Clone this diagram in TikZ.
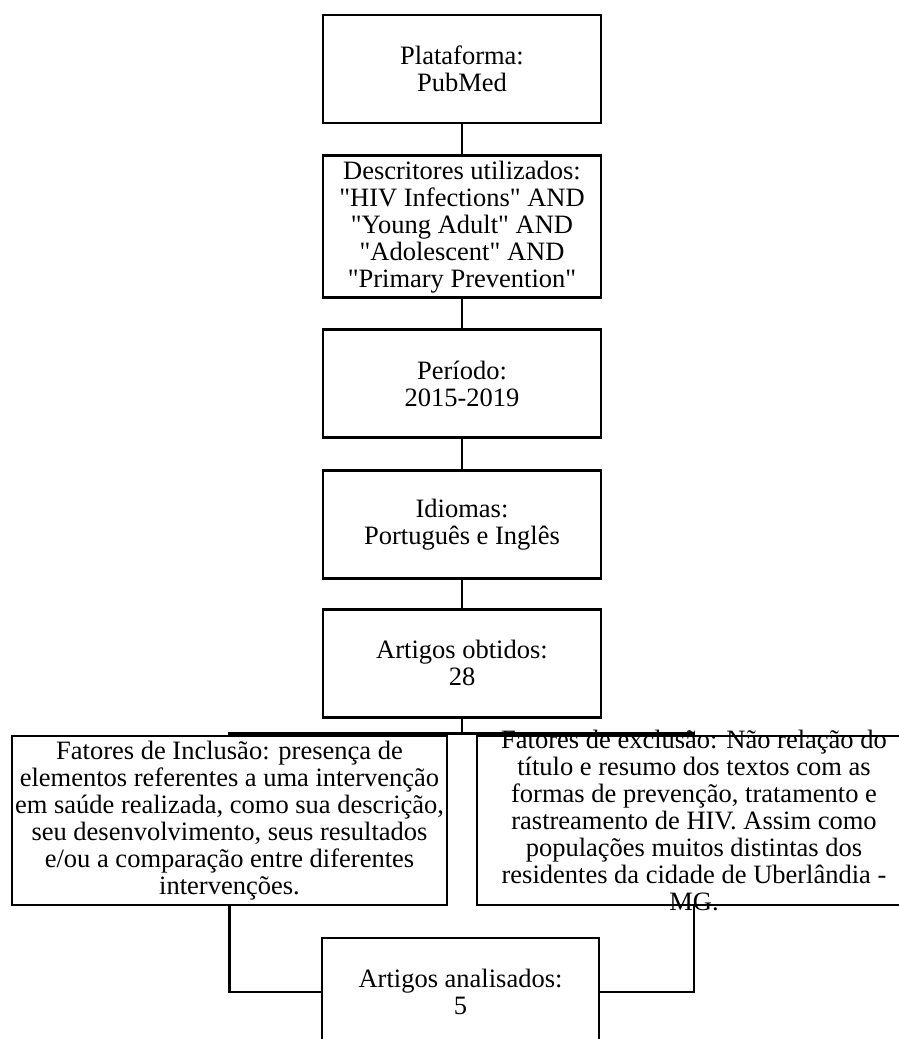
\documentclass[tikz,border=0pt]{standalone}
\usepackage{fontspec}
\setmainfont{Liberation Serif}[Ligatures=TeXOff]
\usepackage{tikz}
\usetikzlibrary{positioning,calc}
\newcommand\boxfont{\fontsize{26.5pt}{27pt}\selectfont}
\tikzset{
  box/.style={rectangle, draw, line width=2.8pt, align=center, inner sep=0pt,
              minimum width=278pt, minimum height=108pt, font=\boxfont},
  widebox/.style={box, minimum width=435pt, minimum height=169pt},
  boxtext/.style={align=center, inner sep=0pt, font=\boxfont},
  link/.style={line width=2.8pt},
}
\begin{document}
\begin{tikzpicture}
  \useasboundingbox (0,0) rectangle (899pt,-1039pt);
  \node[box] (plat) at (462pt,-69pt) {Plataforma:\\PubMed};
  \node[box, minimum height=142pt, below=30pt of plat] (desc) {Descritores utilizados:\\"HIV Infections" AND\\"Young Adult" AND\\"Adolescent" AND\\"Primary Prevention"};
  \node[box, below=29pt of desc] (per) {Período:\\2015-2019};
  \node[box, below=30pt of per] (idi) {Idiomas:\\Português e Inglês};
  \node[box, below=28pt of idi] (obt) {Artigos obtidos:\\28};
  \node[widebox] (inc) at (229.5pt,-820.5pt) {Fatores de Inclusão: presença de\\elementos referentes a uma intervenção\\em saúde realizada, como sua descrição,\\seu desenvolvimento, seus resultados\\e/ou a comparação entre diferentes\\intervenções.};
  \node[widebox, minimum width=434pt] (exc) at (694pt,-820.5pt) {};
  \node[boxtext] (exctext) at (exc) {Fatores de exclusão: Não relação do\\título e resumo dos textos com as\\formas de prevenção, tratamento e\\rastreamento de HIV. Assim como\\populações muitos distintas dos\\residentes da cidade de Uberlândia -\\MG.};
  \node[box, minimum width=277pt] (ana) at (460.5pt,-992pt) {Artigos analisados:\\5};
  \draw[link] (plat) -- (desc); \draw[link] (desc) -- (per);
  \draw[link] (per) -- (idi); \draw[link] (idi) -- (obt);
  \draw[link] (obt.south) -- ++(0,-15pt) -| (inc);
  \draw[link] (obt.south) -- ++(0,-15pt) -| (exc);
  \draw[link] (inc.south) |- (ana);
  \draw[link] (exc.south) |- (ana);
\end{tikzpicture}
\end{document}
